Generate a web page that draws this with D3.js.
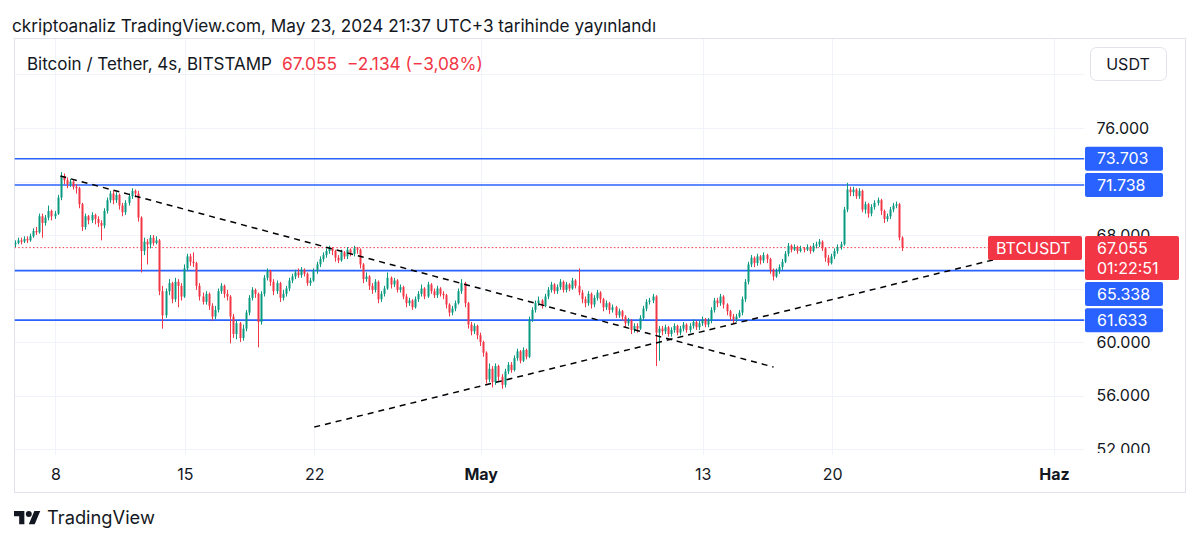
<!DOCTYPE html>
<html><head><meta charset="utf-8">
<script src="https://cdn.jsdelivr.net/npm/d3@7"></script>
<style>
html,body{margin:0;padding:0;background:#fff;}
svg{display:block;font-family:Inter,"Noto Sans",sans-serif;}
</style></head><body>
<svg id="c" width="1200" height="544"></svg>
<script>
// ---------- DATA (prices in thousands USDT, 4h candles) ----------
const startTime = Date.UTC(2024,3,5,19,0);   // first candle, Apr 5 19:00 (UTC+3)
const firstOpen = 67.3;
const closes = [67.4,67.6,67.5,67.7,67.6,67.9,
68.3,68.2,69.4,68.9,
69.3,69.8,69.4,69.6,
70.8,72.4,
72.1,71.8,72.0,71.6,71.5,
70.3,68.6,
69.4,69.1,69.5,69.2,68.9,
68.7,
69.8,70.6,71.1,
70.6,71.0,70.2,69.7,70.4,
70.9,71.3,71.1,
69.3,66.8,
67.5,67.3,67.8,67.4,67.6,
63.8,62.0,
63.8,64.4,63.2,64.5,64.2,63.4,
65.5,66.4,66.0,65.9,
64.2,63.4,63.0,
63.6,62.7,61.9,62.4,
63.8,64.2,63.6,63.4,
61.9,
60.6,61.4,60.3,61.0,
62.2,63.3,63.9,63.6,
61.5,
63.6,64.8,65.3,
64.5,63.8,64.4,63.3,63.6,
64.0,64.6,
64.9,65.2,65.0,65.4,65.1,64.4,64.6,
65.3,65.8,66.2,66.5,66.8,
67.0,66.8,
66.3,66.1,66.7,66.4,66.9,
66.6,67.0,66.9,
65.8,64.7,
64.9,64.2,63.9,64.5,63.2,63.6,64.0,
64.8,
64.3,64.6,63.9,64.1,
63.4,62.9,63.1,62.6,63.2,
63.6,64.0,63.4,64.3,
63.8,63.5,64.0,63.6,63.5,
62.8,62.2,62.5,62.9,
63.8,64.4,
62.9,61.3,
60.8,61.2,60.5,
60.0,59.2,
57.2,
58.0,57.0,58.2,57.4,56.8,57.8,
58.3,57.9,58.8,59.3,58.6,59.4,58.9,
61.7,62.4,
62.9,63.1,62.7,63.4,
63.9,64.3,63.8,64.1,64.5,63.9,
64.3,64.0,64.6,64.2,63.7,
63.2,62.9,63.6,62.8,63.3,
63.7,63.2,62.6,62.9,
62.4,62.6,62.0,62.3,61.9,
61.4,61.6,60.9,61.2,61.0,
61.8,62.5,63.0,63.1,63.4,
60.7,61.0,
60.8,61.1,60.6,60.9,61.2,60.7,61.0,61.3,60.9,61.2,61.5,61.1,61.4,61.7,61.3,61.6,
62.4,63.1,62.9,63.4,
62.8,62.3,61.9,61.7,
61.9,62.2,
63.2,64.5,65.8,
66.3,65.9,
66.4,66.1,66.5,66.2,
65.4,64.9,
65.3,65.6,66.0,
66.6,67.2,
66.9,67.1,66.8,67.0,66.9,67.1,66.8,67.2,67.3,
67.5,
67.0,66.3,65.9,
66.4,66.8,67.1,67.3,
69.9,71.4,
71.2,71.4,70.9,71.3,
69.9,
70.3,69.6,70.1,
70.4,70.6,
69.8,69.2,69.4,
69.9,70.2,70.3,
67.8,67.055];
const highs = [67.6,67.8,67.8,67.9,67.9,68.1,
68.5,68.6,69.6,69.6,
69.5,70.2,69.9,69.8,
71.0,72.7,
72.6,72.3,72.2,72.1,71.8,
71.6,70.4,
69.6,69.5,69.7,69.6,69.4,
69.1,
70.0,70.8,71.3,
71.3,71.2,71.1,70.4,70.6,
71.1,71.5,71.4,
71.3,69.4,
67.8,67.7,68.0,68.0,67.9,
67.7,64.2,
64.0,64.7,64.5,64.8,64.7,64.4,
65.8,66.6,66.6,66.7,
66.0,64.4,63.7,
63.8,63.7,62.9,62.7,
64.0,64.4,64.3,63.9,
63.5,
62.1,61.6,61.5,61.3,
62.4,63.5,64.1,64.0,
63.7,
63.8,65.0,65.5,
65.4,64.7,64.6,64.5,63.9,
64.2,64.8,
65.1,65.4,65.5,65.6,65.5,65.2,64.8,
65.5,66.0,66.4,66.7,67.0,
67.2,67.1,
66.9,66.5,66.9,66.8,67.1,
67.0,67.2,67.1,
67.0,65.9,
65.2,65.0,64.4,64.7,64.6,63.8,64.2,
65.2,
64.9,64.8,64.7,64.3,
64.2,63.6,63.3,63.2,63.4,
63.8,64.3,64.1,64.5,
64.4,64.0,64.2,64.1,63.8,
63.6,62.9,62.7,63.1,
64.0,64.7,
64.5,63.0,
61.5,61.4,61.3,
60.7,60.1,
59.3,
58.4,58.2,58.4,58.3,57.6,58.0,
58.5,58.5,59.0,59.5,59.4,59.6,59.5,
61.9,62.6,
63.1,63.4,63.2,63.6,
64.1,64.5,64.4,64.3,64.7,64.6,
64.5,64.4,64.8,64.7,65.5,
63.9,63.4,63.8,63.7,63.5,
63.9,63.8,63.3,63.1,
63.0,62.8,62.7,62.5,62.4,
62.0,61.8,61.7,61.4,61.4,
62.0,62.7,63.2,63.3,63.6,
63.5,61.2,
61.2,61.3,61.2,61.1,61.4,61.3,61.2,61.5,61.4,61.4,61.7,61.6,61.6,61.9,61.8,61.8,
62.6,63.3,63.3,63.6,
63.5,62.9,62.4,62.1,
62.1,62.4,
63.4,64.7,66.0,
66.5,66.4,
66.6,66.5,66.7,66.6,
66.3,65.5,
65.5,65.8,66.2,
66.8,67.4,
67.3,67.3,67.2,67.2,67.1,67.3,67.2,67.4,67.5,
67.7,
67.6,67.1,66.5,
66.6,67.0,67.3,67.5,
70.1,71.9,
71.6,71.6,71.5,71.5,
71.4,
70.5,70.4,70.3,
70.6,70.8,
70.7,69.9,69.6,
70.1,70.4,70.5,
70.4,67.9];
const lows = [67.1,67.3,67.3,67.4,67.4,67.5,
67.8,68.0,68.1,67.8,
68.7,69.1,69.1,69.2,
69.5,70.6,
71.8,71.5,71.6,71.4,71.1,
70.0,68.3,
68.4,68.8,68.9,68.8,68.6,
67.6,
68.5,69.6,70.4,
70.3,70.4,69.9,69.4,69.5,
70.2,70.7,70.8,
69.0,65.2,
66.5,65.8,67.0,67.2,67.3,
63.5,61.0,
61.8,63.5,62.9,63.0,62.6,63.1,
63.3,65.3,65.7,65.6,
63.9,63.1,62.8,
62.8,62.4,61.6,61.7,
62.2,63.6,63.3,63.1,
59.9,
60.3,60.2,60.0,60.1,
60.8,62.0,63.1,63.3,
59.6,
61.3,63.4,64.6,
64.2,63.5,63.6,63.0,63.1,
63.4,63.8,
64.4,64.7,64.8,64.8,64.9,64.2,64.2,
64.5,65.1,65.6,66.0,66.3,
66.6,66.5,
66.0,65.9,66.0,66.2,66.2,
66.4,66.4,66.6,
65.5,64.4,
64.5,63.9,63.6,63.7,62.9,63.0,63.4,
63.9,
64.0,64.1,63.7,63.7,
63.2,62.6,62.7,62.4,62.5,
63.0,63.4,63.2,63.3,
63.6,63.3,63.3,63.4,63.2,
62.5,61.9,62.0,62.3,
62.8,63.6,
62.6,61.0,
60.5,60.6,60.2,
59.7,58.9,
56.9,
57.0,56.6,56.8,57.1,56.5,56.6,
57.6,57.7,57.8,58.6,58.4,58.5,58.7,
58.8,61.5,
62.2,62.7,62.5,62.6,
63.2,63.7,63.6,63.6,63.9,63.7,
63.7,63.8,63.9,64.0,63.5,
62.9,62.6,62.7,62.5,62.6,
63.1,62.9,62.3,62.4,
62.1,62.2,61.8,61.8,61.6,
61.1,61.2,60.6,60.7,60.7,
60.9,61.6,62.3,62.8,62.9,
58.2,58.6,
60.5,60.6,60.4,60.4,60.7,60.5,60.5,60.8,60.7,60.7,61.0,60.9,60.9,61.2,61.1,61.1,
61.4,62.2,62.6,62.7,
62.5,62.0,61.6,61.4,
61.5,61.8,
62.0,63.0,64.3,
65.6,65.6,
65.7,65.8,65.9,65.9,
65.1,64.6,
64.8,65.1,65.4,
65.9,66.4,
66.7,66.8,66.6,66.7,66.7,66.8,66.6,66.7,67.0,
67.1,
66.8,66.0,65.7,
65.8,66.2,66.6,66.9,
67.2,69.7,
70.9,70.9,70.7,70.7,
69.7,
69.6,69.3,69.4,
69.9,70.2,
69.5,68.9,69.0,
69.2,69.7,70.0,
67.6,66.8];

const levels = [73.703, 71.738, 65.338, 61.633];
const lastPrice = 67.055;
const countdown = "01:22:51";
const symbolTag = "BTCUSDT";
const gridTicks = [80,76,72,68,64,60,56,52];
const priceLabelTicks = [76,68,60,56,52];   // labels not hidden behind the tags
const tickDates = ["2024-04-08","2024-04-15","2024-04-22","2024-05-01","2024-05-13","2024-05-20","2024-06-01"];
const tickLabels = ["8","15","22","May","13","20","Haz"];
const tickBold = [false,false,false,true,false,false,true];
const trendDown = [{t:"2024-04-08T06:30:00Z",p:72.41},{t:"2024-05-16T20:00:00Z",p:58.13}];
const trendUp = [{t:"2024-04-22T00:00:00Z",p:53.64},{t:"2024-05-28T22:00:00Z",p:66.21}];
const titleText = "ckriptoanaliz TradingView.com, May 23, 2024 21:37 UTC+3 tarihinde yayınlandı";
const legendText = "Bitcoin / Tether, 4s, BITSTAMP";
const legendPrice = "67.055";
const legendChange = "\u22122.134 (\u22123,08%)";
const currency = "USDT";

// ---------- LAYOUT ----------
const svg = d3.select("#c");
const INK = "#131722", GREEN = "#089981", RED = "#f23645", BLUE = "#2962ff", GRID = "#f0f3fa";
const pane = {l:14.5, t:38.5, r:1084.5, b:455};
const frame = {l:14.5, t:38.5, r:1185.5, b:492.5};

const x = d3.scaleUtc().domain([new Date(Date.UTC(2024,3,8)), new Date(Date.UTC(2024,5,1))]).range([55.35, 1054.0]);
const y = d3.scaleLinear().domain([52,76]).range([449,128]);

const candles = closes.map((c,i)=>({
  t: new Date(startTime + i*4*3600*1000),
  o: i ? closes[i-1] : firstOpen, c, h: highs[i], l: lows[i]
}));

function fit(sel, w){ // adjust font-size so text has the wanted width
  const n = sel.node(); const fs = parseFloat(sel.attr("font-size"));
  const len = n.getComputedTextLength(); if(len>0) sel.attr("font-size", (fs*w/len).toFixed(2));
}

const defs = svg.append("defs");
defs.append("clipPath").attr("id","pc").append("rect")
  .attr("x",pane.l).attr("y",pane.t).attr("width",pane.r-pane.l).attr("height",pane.b-pane.t);
defs.append("clipPath").attr("id","ac").append("rect")
  .attr("x",pane.r).attr("y",pane.t).attr("width",frame.r-pane.r).attr("height",453-pane.t);

// grid
const grid = svg.append("g").attr("clip-path","url(#pc)");
grid.selectAll(".hg").data(gridTicks).join("line")
  .attr("x1",pane.l).attr("x2",pane.r).attr("y1",d=>Math.round(y(d))+0.5).attr("y2",d=>Math.round(y(d))+0.5)
  .attr("stroke",GRID);
grid.selectAll(".vg").data(tickDates).join("line")
  .attr("x1",d=>Math.round(x(new Date(d)))+0.5).attr("x2",d=>Math.round(x(new Date(d)))+0.5)
  .attr("y1",pane.t).attr("y2",pane.b).attr("stroke",GRID);

// frame
svg.append("rect").attr("x",frame.l).attr("y",frame.t).attr("width",frame.r-frame.l).attr("height",frame.b-frame.t)
  .attr("fill","none").attr("stroke","#e0e3eb");

const plot = svg.append("g").attr("clip-path","url(#pc)");

// level lines
plot.selectAll(".lvl").data(levels).join("line")
  .attr("x1",pane.l).attr("x2",pane.r).attr("y1",d=>y(d)).attr("y2",d=>y(d))
  .attr("stroke",BLUE).attr("stroke-width",1.6);

// last price dotted line
plot.append("line").attr("x1",pane.l).attr("x2",988).attr("y1",y(lastPrice)).attr("y2",y(lastPrice))
  .attr("stroke",RED).attr("stroke-width",1).attr("stroke-dasharray","1.5,2.2");

// candles
const cg = plot.append("g");
cg.selectAll(".wick").data(candles).join("line")
  .attr("x1",d=>Math.round(x(d.t))+0.5).attr("x2",d=>Math.round(x(d.t))+0.5)
  .attr("y1",d=>y(d.h)).attr("y2",d=>y(d.l))
  .attr("stroke",d=>d.c>=d.o?GREEN:RED).attr("stroke-width",1);
cg.selectAll(".body").data(candles).join("rect")
  .attr("x",d=>Math.round(x(d.t))-0.5).attr("width",2)
  .attr("y",d=>y(Math.max(d.o,d.c))).attr("height",d=>Math.max(1,Math.abs(y(d.o)-y(d.c))))
  .attr("fill",d=>d.c>=d.o?GREEN:RED);

// trend lines
const tl = d3.line().x(d=>x(new Date(d.t))).y(d=>y(d.p));
[trendDown,trendUp].forEach(seg=>{
  plot.append("path").attr("d",tl(seg)).attr("fill","none").attr("stroke","#000")
    .attr("stroke-width",1.5).attr("stroke-dasharray","6,5");
});

// price axis (labels clipped at the pane bottom, like the reference)
const ax = svg.append("g").attr("clip-path","url(#ac)").append("g").attr("transform",`translate(${pane.r},0)`)
  .call(d3.axisRight(y).tickValues(priceLabelTicks).tickSize(0).tickPadding(12).tickFormat(d3.format(".3f")));
ax.select(".domain").remove();
ax.selectAll("text").attr("font-size",16).attr("fill",INK).attr("font-family","Inter,'Noto Sans',sans-serif");

// currency box
svg.append("rect").attr("x",1090.5).attr("y",47.5).attr("width",76).attr("height",33).attr("rx",6)
  .attr("fill","#fff").attr("stroke","#e0e3eb");
svg.append("text").attr("x",1128).attr("y",64).attr("dy","0.35em").attr("text-anchor","middle")
  .attr("font-size",16).attr("fill",INK).text(currency);

// labels on price axis
const fmt = d3.format(".3f");
const redTop = y(lastPrice) - 11.6, redH = 44;
let boxes = [{top:redTop, bottom:redTop+redH}];
const lbl = svg.append("g");
levels.slice().sort((a,b)=>b-a).forEach(v=>{
  let top = y(v) - 12, h = 24;
  boxes.forEach(b=>{ if(top < b.bottom + 1 && top + h > b.top - 1){ top = b.bottom + 2; } });
  boxes.push({top, bottom: top+h});
  lbl.append("rect").attr("x",pane.r+0.5).attr("y",top).attr("width",78).attr("height",h).attr("rx",2).attr("fill",BLUE);
  lbl.append("text").attr("x",1097).attr("y",top+h/2).attr("dy","0.36em").attr("font-size",16).attr("fill","#fff").text(fmt(v));
});
lbl.append("rect").attr("x",pane.r+0.5).attr("y",redTop).attr("width",94).attr("height",redH).attr("rx",2).attr("fill",RED);
lbl.append("text").attr("x",1097).attr("y",redTop+12).attr("dy","0.36em").attr("font-size",16).attr("fill","#fff").text(fmt(lastPrice));
lbl.append("text").attr("x",1097).attr("y",redTop+32).attr("dy","0.36em").attr("font-size",16).attr("fill","#fff").text(countdown);
lbl.append("rect").attr("x",988).attr("y",redTop).attr("width",94).attr("height",24).attr("rx",2).attr("fill",RED);
lbl.append("text").attr("x",996).attr("y",redTop+12).attr("dy","0.36em").attr("font-size",16).attr("fill","#fff").text(symbolTag);

// time axis
const tx = svg.append("g").attr("transform",`translate(0,456)`)
  .call(d3.axisBottom(x).tickValues(tickDates.map(d=>new Date(d))).tickSize(0).tickPadding(12.5)
    .tickFormat((d,i)=>tickLabels[i]));
tx.select(".domain").remove();
tx.selectAll("text").attr("font-size",16).attr("fill",INK).attr("font-family","Inter,'Noto Sans',sans-serif")
  .attr("font-weight",(d,i)=>tickBold[i]?700:400);

// header
const t1 = svg.append("text").attr("x",12).attr("y",26).attr("dy","0.35em").attr("font-size",17).attr("fill",INK).text(titleText);
fit(t1, 645);
const lg = svg.append("text").attr("x",27).attr("y",64).attr("dy","0.35em").attr("font-size",16).attr("fill",INK).text(legendText);
fit(lg, 245);
const lp = svg.append("text").attr("x",282).attr("y",64).attr("dy","0.35em").attr("font-size",16).attr("fill",RED).text(legendPrice);
fit(lp, 55);
const lc = svg.append("text").attr("x",347).attr("y",64).attr("dy","0.35em").attr("font-size",16).attr("fill",RED).text(legendChange);
fit(lc, 136);

// footer logo
const logo = svg.append("g").attr("transform","translate(14,508) scale(0.74)").attr("fill",INK);
logo.append("path").attr("d","M14 22H7V11H0V4h14v18ZM28 22h-8l7.5-18h8L28 22Z");
logo.append("circle").attr("cx",20).attr("cy",8).attr("r",4);
const tv = svg.append("text").attr("x",47).attr("y",518).attr("dy","0.35em").attr("font-size",19).attr("fill",INK).text("TradingView");
fit(tv, 108);
</script>
</body></html>
